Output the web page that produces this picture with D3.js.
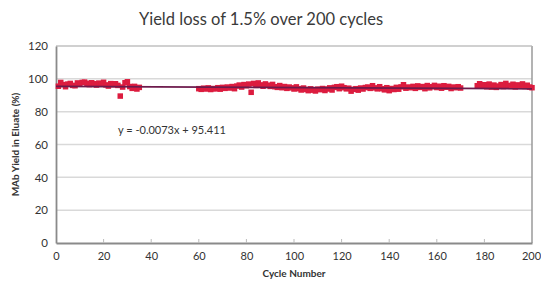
<!DOCTYPE html>
<html><head><meta charset="utf-8">
<script src="https://cdn.jsdelivr.net/npm/d3@7"></script>
<style>
html,body{margin:0;padding:0;background:#fff;}
text{font-family:Lato,"Open Sans","DejaVu Sans",sans-serif;}
</style></head>
<body><svg id="c" width="541" height="283"></svg>
<script>
const title = "Yield loss of 1.5% over 200 cycles";
const xLabel = "Cycle Number";
const yLabel = "MAb Yield in Eluate (%)";
const xTicks = [0,20,40,60,80,100,120,140,160,180,200];
const yTicks = [0,20,40,60,80,100,120];
const slope = -0.0073, intercept = 95.411;
const equation = "y = -0.0073x + 95.411";

const cycles = [
 1,2,3,4,5,6,7,8,9,10,11,12,13,14,15,16,17,18,19,20,21,22,23,24,25,26,27,28,29,30,31,32,33,34,35,
 60,61,62,63,64,65,66,67,68,69,70,71,72,73,74,75,
 76,77,78,79,80,81,82,83,84,85,86,87,88,89,90,91,92,93,94,95,
 96,97,98,99,100,101,102,103,104,105,106,107,108,109,110,
 111,112,113,114,115,116,117,118,119,120,121,122,123,124,125,126,127,128,129,130,
 131,132,133,134,135,136,137,138,139,140,141,142,143,144,145,146,147,148,149,150,
 151,152,153,154,155,156,157,158,159,160,161,162,163,164,165,166,167,168,169,170,
 177,178,179,180,181,182,183,184,185,186,187,188,189,190,191,192,193,194,195,196,197,198,199,200];
const yields = [
 95.5,97.8,96.5,95.2,96.8,97.2,96.0,95.8,97.5,96.9,97.8,98.0,97.3,96.5,97.6,97.0,96.2,97.4,96.8,97.9,96.3,95.6,97.1,96.4,97.0,96.0,89.5,95.0,97.6,98.2,95.3,94.2,95.4,93.8,94.8,
 94.0,93.6,94.3,93.8,94.5,93.5,94.1,93.9,94.6,93.7,94.8,94.2,95.0,94.4,95.3,94.0,
 95.6,96.2,95.0,96.5,95.8,96.8,91.8,97.2,96.0,97.5,96.3,95.5,96.9,96.1,95.4,96.6,95.2,94.8,95.9,94.6,
 95.3,94.2,95.0,94.5,93.8,95.1,94.0,93.2,94.4,93.5,92.8,93.9,93.1,92.6,93.7,
 93.4,94.1,92.9,93.8,94.5,93.2,94.8,95.2,94.0,95.5,94.6,93.9,94.3,92.5,93.6,94.0,93.1,94.4,93.8,94.7,
 95.0,94.2,95.8,94.5,93.9,95.2,94.0,93.3,94.6,92.8,94.1,93.5,94.8,93.7,95.1,96.4,94.3,95.0,94.6,95.4,
 94.2,95.7,94.8,95.3,94.0,95.9,94.5,95.2,96.0,94.7,95.5,94.3,95.8,94.9,95.4,94.1,95.0,94.6,95.2,94.4,
 95.8,97.0,95.5,96.4,95.2,96.8,95.0,96.2,94.8,95.6,96.5,95.3,97.2,96.0,95.4,96.7,95.1,96.3,95.7,96.9,95.4,96.1,95.0,94.6];

const svg = d3.select("#c");
const L=56, R=532, T=46, B=243;
const x = d3.scaleLinear().domain([0,200]).range([L,R]);
const y = d3.scaleLinear().domain([0,120]).range([B,T]);

// title
svg.append("text").attr("x",261).attr("y",25).attr("text-anchor","middle")
  .attr("font-size",16.5).attr("fill","#3a3a3a").text(title);

// gridlines
svg.append("g").selectAll("line").data(yTicks.filter(d=>d>0)).join("line")
  .attr("x1",L).attr("x2",R).attr("y1",d=>y(d)).attr("y2",d=>y(d))
  .attr("stroke","#d9d9d9").attr("stroke-width",1.5);

// border
svg.append("line").attr("x1",R).attr("x2",R).attr("y1",T).attr("y2",B).attr("stroke","#9a9a9a").attr("stroke-width",1.5);
svg.append("line").attr("x1",L).attr("x2",R).attr("y1",T).attr("y2",T).attr("stroke","#bdbdbd").attr("stroke-width",1.2);

// axes
const xAxis = d3.axisBottom(x).tickValues(xTicks).tickSize(0).tickPadding(9);
const gx = svg.append("g").attr("transform",`translate(0,${B})`).call(xAxis);
gx.select(".domain").attr("stroke","#8a8a8a").attr("stroke-width",1.8);
gx.selectAll("text").attr("font-size",11).attr("fill","#333");
gx.selectAll(".tick").filter(d=>d===200).select("text").attr("dx",-1);
// inward ticks
svg.append("g").selectAll("line").data(xTicks.filter(d=>d>0&&d<200)).join("line")
  .attr("x1",d=>x(d)).attr("x2",d=>x(d)).attr("y1",B).attr("y2",B-4)
  .attr("stroke","#bbb").attr("stroke-width",1);

const yAxis = d3.axisLeft(y).tickValues(yTicks).tickSize(0).tickPadding(8);
const gy = svg.append("g").attr("transform",`translate(${L},0)`).call(yAxis);
gy.select(".domain").attr("stroke","#8a8a8a").attr("stroke-width",1.8);
gy.selectAll("text").attr("font-size",11.5).attr("fill","#333");

// axis labels
svg.append("text").attr("x",294).attr("y",277).attr("text-anchor","middle")
  .attr("font-size",10).attr("font-weight","bold").attr("fill","#333").text(xLabel);
svg.append("text").attr("transform",`translate(19,${(T+B)/2}) rotate(-90)`).attr("text-anchor","middle")
  .attr("font-size",10).attr("font-weight","bold").attr("fill","#333").text(yLabel);

// points
const data = cycles.map((c,i)=>({c, v:yields[i]}));
const s = 5.5;
svg.append("g").selectAll("rect").data(data).join("rect")
  .attr("x",d=>x(d.c)-s/2).attr("y",d=>y(d.v)-s/2).attr("width",s).attr("height",s)
  .attr("fill","#dc1c3f");

// trendline
svg.append("line").attr("x1",x(0)).attr("x2",x(200))
  .attr("y1",y(intercept)).attr("y2",y(intercept+slope*200))
  .attr("stroke","#6d1a4c").attr("stroke-width",1.8);

// equation
svg.append("text").attr("x",118).attr("y",134).attr("font-size",11).attr("fill","#333").text(equation);
</script></body></html>
